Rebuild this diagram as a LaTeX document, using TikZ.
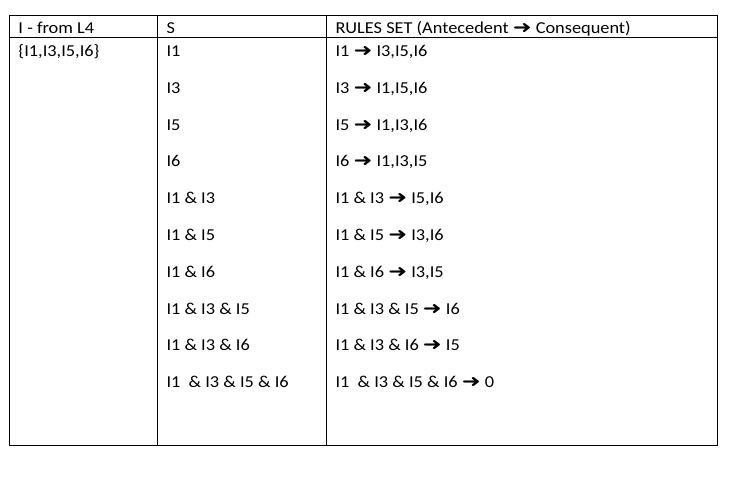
\documentclass[tikz,border=0pt]{standalone}
\usepackage{fontspec}
\setmainfont{Carlito}[FakeStretch=1.1]
\newfontfamily\arrowfont{DejaVu Sans}
\newcommand{\ruleto}{\scalebox{1.35}[1.05]{\arrowfont\fontsize{12.5pt}{14pt}\selectfont ➜}}
\usetikzlibrary{positioning}

\begin{document}
\begin{tikzpicture}[x=0.75pt, y=-0.75pt, line width=0.75pt,
    font=\fontsize{12.5pt}{14pt}\selectfont,
    cell/.style={anchor=base west, inner sep=0pt}]
\useasboundingbox (0,0) rectangle (730,478);
% table frame
\draw (9,16) rectangle (717,445);
\draw (9,38) -- (717,38);
\draw (157,16) -- (157,445);
\draw (326,16) -- (326,445);
% header
\node[cell] (hL) at (18,33.5) {I - from L4};
\node[cell] (hS) at (166,33.5) {S};
\node[cell] (hR) at (335,33.5) {RULES SET (Antecedent \ruleto{} Consequent)};
\node[cell] (L) at (18,56.5) {\{I1,I3,I5,I6\}};
% subsets and rules
\foreach \s/\c [count=\i from 0] in {{I1}/{I3,I5,I6}, {I3}/{I1,I5,I6}, {I5}/{I1,I3,I6},
    {I6}/{I1,I3,I5}, {I1 \& I3}/{I5,I6}, {I1 \& I5}/{I3,I6}, {I1 \& I6}/{I3,I5},
    {I1 \& I3 \& I5}/{I6}, {I1 \& I3 \& I6}/{I5}, {I1\ \ \& I3 \& I5 \& I6}/{0}}
{
  \node[cell] (s\i) at (166,56.5+36.8*\i) {\s};
  \node[cell] (r\i) at (335,56.5+36.8*\i) {\s\ \ruleto\ \c};
}
\end{tikzpicture}
\end{document}
